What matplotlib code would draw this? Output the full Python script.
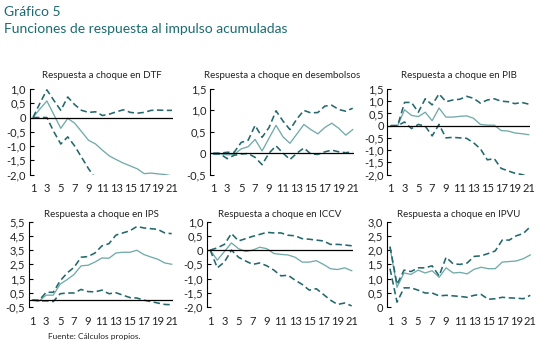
import numpy as np
import matplotlib
matplotlib.use("Agg")
import matplotlib.pyplot as plt

plt.rcParams['font.family'] = ['Lato', 'DejaVu Sans']

periods = list(range(1, 22))
xtick_labels = [str(p) for p in range(1, 22, 2)]
nan = np.nan

titles = ["Respuesta a choque en DTF", "Respuesta a choque en desembolsos",
          "Respuesta a choque en PIB", "Respuesta a choque en IPS",
          "Respuesta a choque en ICCV", "Respuesta a choque en IPVU"]

# respuesta estimada (linea continua) y bandas (lineas punteadas)
dtf_mid = [0, 0.3, 0.58, 0.1, -0.38, -0.03, -0.2, -0.5, -0.8, -0.93, -1.15, -1.35, -1.48, -1.6,
           -1.7, -1.8, -1.97, -1.95, -1.98, -2.0, -2.05]
dtf_up = [0, 0.5, 0.97, 0.6, 0.25, 0.72, 0.45, 0.25, 0.18, 0.2, 0.07, 0.12, 0.2, 0.27,
          0.18, 0.15, 0.18, 0.25, 0.26, 0.25, 0.25]
dtf_low = [0, 0, 0, -0.5, -0.93, -0.68, -1.0, -1.4, -1.8, -2.15, nan, nan, nan, nan,
           nan, nan, nan, nan, nan, nan, nan]

des_mid = [-0.02, -0.02, -0.04, -0.03, 0.1, 0.15, 0.32, 0.05, 0.35, 0.65, 0.38, 0.23, 0.45, 0.67,
           0.55, 0.45, 0.6, 0.7, 0.58, 0.42, 0.55]
des_up = [0, 0, 0.02, 0.02, 0.25, 0.3, 0.65, 0.37, 0.6, 0.99, 0.75, 0.55, 0.8, 1.0,
          0.94, 0.95, 1.1, 1.12, 1.02, 0.98, 1.05]
des_low = [-0.02, -0.02, -0.13, -0.05, -0.02, -0.01, -0.1, -0.27, 0.0, 0.17, 0.0, -0.15, 0.0, 0.12,
           -0.02, -0.03, 0.03, 0.07, 0.03, 0.01, 0.03]

pib_mid = [0, 0, 0.65, 0.42, 0.37, 0.55, 0.2, 0.72, 0.35, 0.35, 0.38, 0.4, 0.3, 0.05,
           0.02, 0.02, -0.2, -0.22, -0.3, -0.33, -0.37]
pib_up = [0, 0, 0.95, 0.95, 0.55, 1.1, 0.85, 1.3, 0.98, 1.05, 1.08, 1.2, 1.12, 0.92,
          1.05, 1.1, 1.0, 0.98, 0.9, 0.95, 0.88]
pib_low = [0, 0, 0.15, -0.12, 0.05, -0.02, -0.42, 0.05, -0.5, -0.48, -0.5, -0.52, -0.7, -0.95,
           -1.4, -1.35, -1.75, -1.85, -1.95, -2.0, -2.1]

ips_mid = [0, -0.05, 0.35, 0.35, 1.12, 1.44, 1.8, 2.4, 2.44, 2.67, 2.95, 2.93, 3.3, 3.35,
           3.35, 3.49, 3.19, 3.02, 2.86, 2.6, 2.51]
ips_up = [0, 0, 0.55, 0.55, 1.35, 1.9, 2.3, 3.0, 3.05, 3.3, 3.8, 3.95, 4.55, 4.7,
          4.85, 5.15, 5.05, 5.0, 4.95, 4.7, 4.65]
ips_low = [0, -0.05, -0.05, -0.1, 0.45, 0.5, 0.5, 0.75, 0.6, 0.58, 0.7, 0.45, 0.52, 0.35,
           0.18, 0.15, 0.0, -0.1, -0.2, -0.3, -0.32]

iccv_mid = [0, -0.35, -0.05, 0.25, 0.05, -0.05, 0.0, 0.1, 0.05, -0.12, -0.15, -0.17, -0.25, -0.42,
            -0.42, -0.37, -0.5, -0.65, -0.68, -0.62, -0.72]
iccv_up = [0, 0.08, 0.2, 0.58, 0.32, 0.4, 0.48, 0.55, 0.62, 0.6, 0.6, 0.52, 0.5, 0.4,
           0.38, 0.35, 0.32, 0.2, 0.2, 0.18, 0.15]
iccv_low = [0, -0.62, -0.42, 0.0, -0.25, -0.38, -0.5, -0.45, -0.55, -0.7, -0.9, -0.88, -1.05, -1.2,
            -1.4, -1.35, -1.55, -1.75, -1.9, -1.85, -1.95]

ipvu_mid = [2.1, 0.7, 1.2, 1.15, 1.3, 1.2, 1.28, 1.05, 1.38, 1.2, 1.22, 1.17, 1.33, 1.4,
            1.35, 1.35, 1.58, 1.6, 1.62, 1.7, 1.83]
ipvu_up = [2.12, 0.8, 1.3, 1.25, 1.38, 1.38, 1.45, 1.1, 1.75, 1.52, 1.5, 1.55, 1.78, 1.8,
           1.88, 1.97, 2.35, 2.35, 2.5, 2.58, 2.82]
ipvu_low = [1.35, 0.18, 0.68, 0.68, 0.6, 0.5, 0.5, 0.4, 0.42, 0.4, 0.38, 0.35, 0.42, 0.45,
            0.28, 0.3, 0.35, 0.33, 0.32, 0.3, 0.42]

mids = [dtf_mid, des_mid, pib_mid, ips_mid, iccv_mid, ipvu_mid]
ups = [dtf_up, des_up, pib_up, ips_up, iccv_up, ipvu_up]
lows = [dtf_low, des_low, pib_low, ips_low, iccv_low, ipvu_low]

yticks = [np.arange(-2.0, 1.01, 0.5), np.arange(-0.5, 1.51, 0.5), np.arange(-2.0, 1.51, 0.5),
          np.arange(-0.5, 5.51, 1.0), np.arange(-2.0, 1.01, 0.5), np.arange(0, 3.01, 0.5)]

# posiciones en pixeles (izq, der) de cada panel
W, H = 543, 347
cols = [(29.5, 173.4), (209.8, 354.1), (387.3, 530.1),
        (28.8, 173.1), (206.7, 353.1), (386.5, 531.7)]
rows = [(89.0, 174.5), (221.5, 307.3)]
title_y = [75, 214]

solid_c = '#72abaa'
dash_c = '#22686c'
text_c = '#222222'


def fmt(v):
    if abs(v) < 1e-9:
        return "0"
    return f"{v:.1f}".replace('.', ',')


fig = plt.figure(figsize=(W / 100, H / 100), dpi=100)

for i in range(6):
    l, r = cols[i]
    t, b = rows[i // 3]
    ax = fig.add_axes([l / W, 1 - b / H, (r - l) / W, (b - t) / H])
    ax.plot(periods, mids[i], color=solid_c, lw=0.95)
    ax.plot(periods, ups[i], color=dash_c, lw=1.15, dashes=(4, 2.2))
    ax.plot(periods, lows[i], color=dash_c, lw=1.15, dashes=(4, 2.2))
    if i != 5:
        ax.axhline(0, color='black', lw=0.9)
    yt = yticks[i]
    ax.set_ylim(yt[0], yt[-1])
    ax.set_xlim(0.5, 21.2)
    ax.set_yticks(yt)
    ax.set_yticklabels([fmt(v) for v in yt])
    ax.set_xticks(range(1, 22, 2))
    ax.set_xticklabels(xtick_labels)
    for s in ['top', 'right', 'bottom']:
        ax.spines[s].set_visible(False)
    ax.spines['left'].set_linewidth(0.8)
    ax.tick_params(axis='y', direction='in', length=3, width=0.8, pad=2.5,
                   labelsize=8, labelcolor=text_c)
    ax.tick_params(axis='x', length=0, pad=6, labelsize=8, labelcolor=text_c)
    fig.text((l + r) / 2 / W, 1 - title_y[i // 3] / H, titles[i], ha='center', va='center',
             fontsize=7, color=text_c)

fig.text(4 / W, 1 - 12 / H, "Gráfico 5", fontsize=10, color='#1b6b70', va='center')
fig.text(4 / W, 1 - 29 / H, "Funciones de respuesta al impulso acumuladas", fontsize=10,
         color='#1b6b70', va='center')
fig.text(48 / W, 1 - 336 / H, "Fuente: Cálculos propios.", fontsize=6, color=text_c, va='center')

fig.savefig('out.png', dpi=100)
